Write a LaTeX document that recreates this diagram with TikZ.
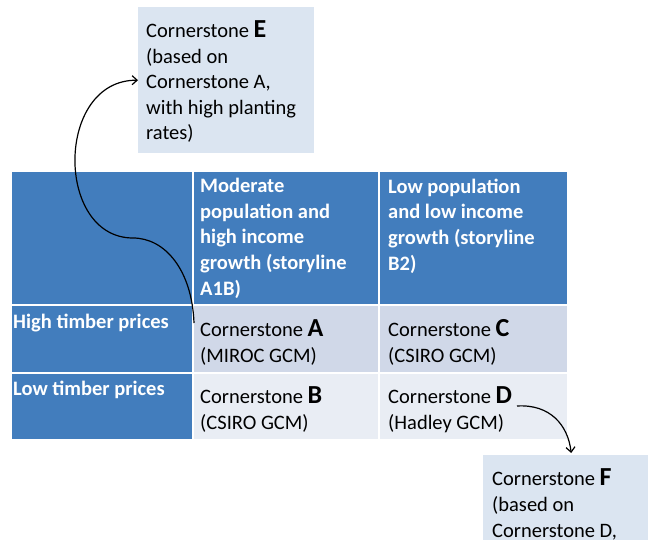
\documentclass[tikz,border=0pt]{standalone}
\usepackage{fontspec}
\setmainfont{Carlito}
\usetikzlibrary{arrows.meta}
\definecolor{hdr}{RGB}{66,125,189}
\definecolor{rowA}{RGB}{208,216,232}
\definecolor{rowB}{RGB}{233,237,244}
\definecolor{boxc}{RGB}{219,229,241}
\newcommand\fnorm{\fontsize{20.5}{25.6}\selectfont}
\newcommand\bigL[1]{{\bfseries\fontsize{26}{26}\selectfont #1}}
\begin{document}
\begin{tikzpicture}[x=1pt,y=-1pt,
  cell/.style={draw=white,line width=1.6pt,anchor=north west,inner sep=0pt},
  txt/.style={anchor=base west,inner sep=0pt,align=left,font=\fnorm,text=black},
  htxt/.style={anchor=base west,inner sep=0pt,align=left,font=\fnorm\bfseries,text=white},
  sbox/.style={fill=boxc,anchor=north west,inner sep=0pt,minimum width=176pt,minimum height=146pt},
  conn/.style={line width=1.2pt,-{Straight Barb[length=5pt,width=9pt]}}]
\clip (0,0) rectangle (648,540);
\fill[white] (0,0) rectangle (648,540);
% table cells
\node[cell,fill=hdr,minimum width=182pt,minimum height=134pt] (h0) at (10,170) {};
\node[cell,fill=hdr,minimum width=186pt,minimum height=134pt] (h1) at (192,170) {};
\node[cell,fill=hdr,minimum width=189pt,minimum height=134pt] (h2) at (378,170) {};
\node[cell,fill=hdr,minimum width=182pt,minimum height=68pt] (a0) at (10,304) {};
\node[cell,fill=rowA,minimum width=186pt,minimum height=68pt] (a1) at (192,304) {};
\node[cell,fill=rowA,minimum width=189pt,minimum height=68pt] (a2) at (378,304) {};
\node[cell,fill=hdr,minimum width=182pt,minimum height=67pt] (b0) at (10,372) {};
\node[cell,fill=rowB,minimum width=186pt,minimum height=67pt] (b1) at (192,372) {};
\node[cell,fill=rowB,minimum width=189pt,minimum height=67pt] (b2) at (378,372) {};
% header texts (anchor = baseline of the last line)
\node[htxt] (t1) at (200,295) {Moderate\\population and\\high income\\growth (storyline\\A1B)};
\node[htxt] (t2) at (388,270) {Low population\\and low income\\growth (storyline\\B2)};
\node[htxt] (tA) at (13,328) {High timber prices};
\node[htxt] (tB) at (13,395) {Low timber prices};
% cornerstone texts
\node[txt] (cA) at (200,362) {Cornerstone \bigL{A}\\(MIROC GCM)};
\node[txt] (cC) at (388,362) {Cornerstone \bigL{C}\\(CSIRO GCM)};
\node[txt] (cB) at (200,429) {Cornerstone \bigL{B}\\(CSIRO GCM)};
\node[txt] (cD) at (388,429) {Cornerstone \bigL{D}\\(Hadley GCM)};
% side boxes
\node[sbox] (E) at (138,7) {};
\node[txt] (eT) at (146,140) {Cornerstone \bigL{E}\\(based on\\Cornerstone A,\\with high planting\\rates)};
\node[sbox] (F) at (483,455) {};
\node[txt] (fT) at (492,537) {Cornerstone \bigL{F}\\(based on\\Cornerstone D,};
% connectors
\coordinate (aS) at ([xshift=2pt,yshift=-19pt]a1.north west);
\coordinate (dS) at (517,406);
\draw[conn] (aS) .. controls (192,270) and (165,238) .. (133,238)
  .. controls (55,238) and (55,80) .. (E.west);
\draw[conn] (dS) .. controls (550,404) and (568,425) .. ([yshift=2pt]F.north);
\end{tikzpicture}
\end{document}
